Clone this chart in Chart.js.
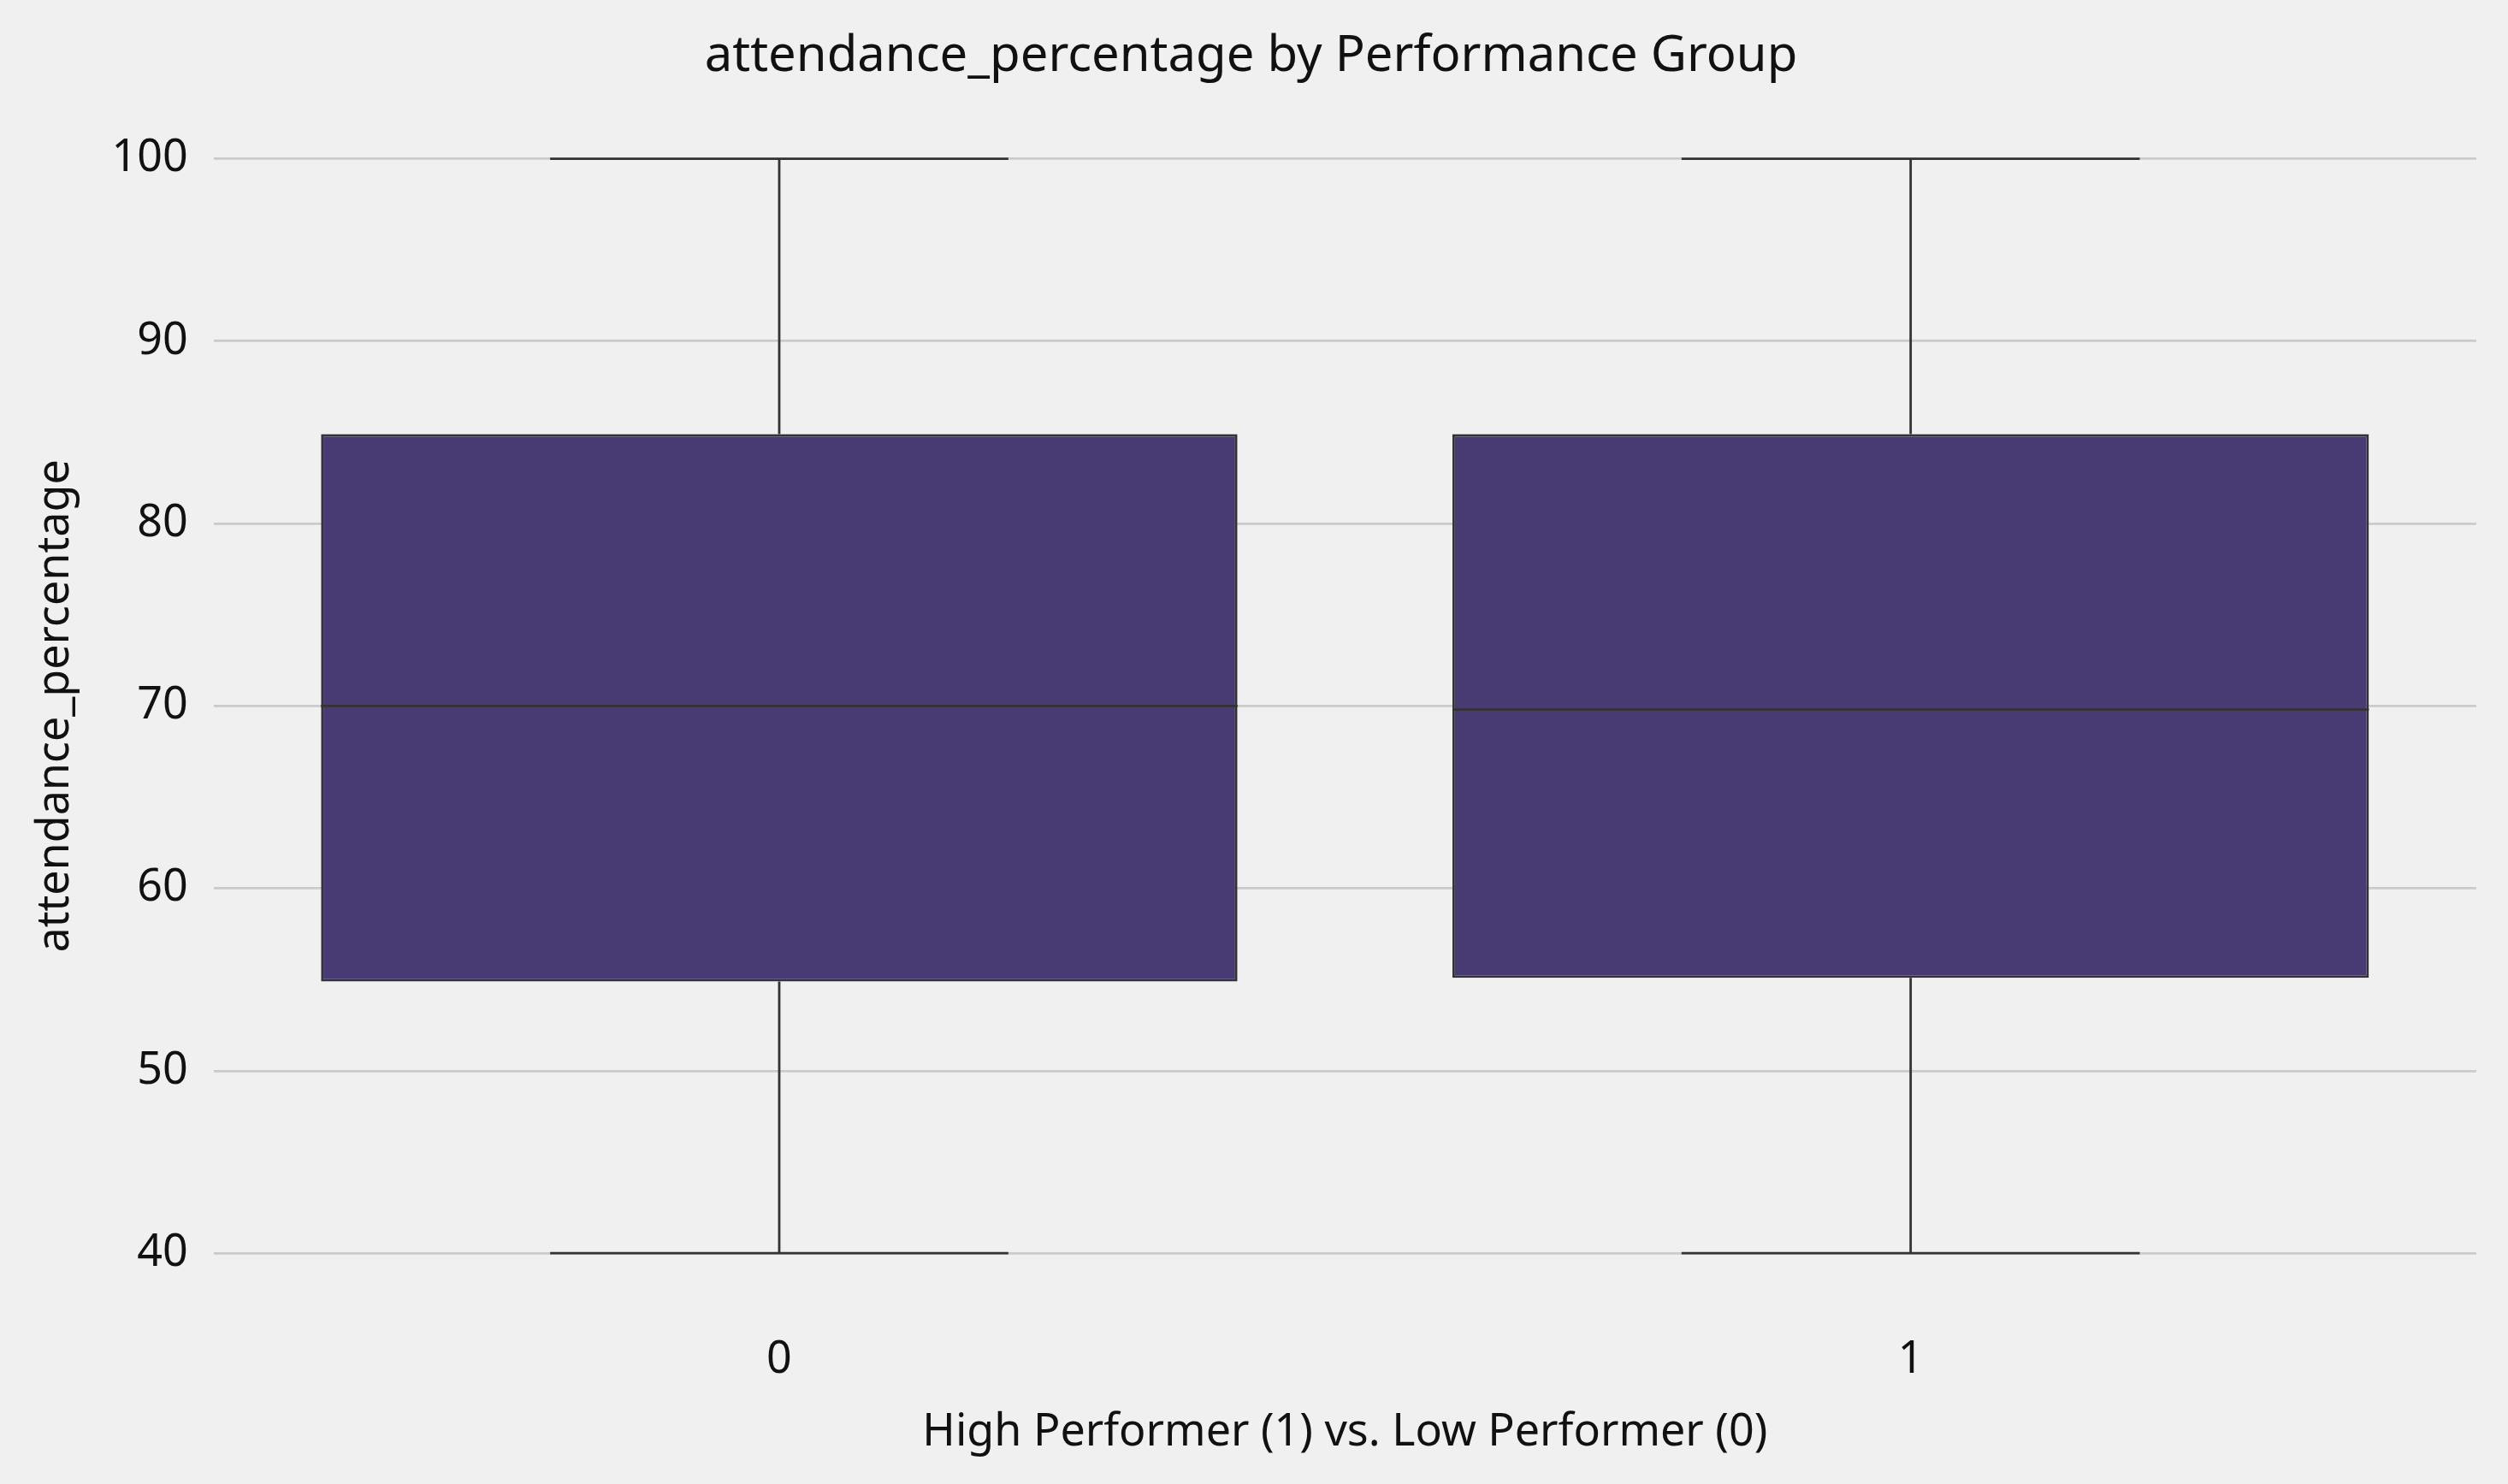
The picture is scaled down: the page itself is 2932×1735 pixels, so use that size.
<!DOCTYPE html>
<html><head><meta charset="utf-8">
<script src="https://cdn.jsdelivr.net/npm/chart.js@4"></script>
<style>html,body{margin:0;padding:0;background:#f0f0f0;}</style>
</head><body>
<canvas id="c" width="2932" height="1735"></canvas>
<script>
const categories = ["0", "1"];
const whiskerLow = [40, 40];
const q1 = [54.9, 55.1];
const median = [70.0, 69.8];
const q3 = [84.9, 84.9];
const whiskerHigh = [100, 100];
const yTicks = [40, 50, 60, 70, 80, 90, 100];

const boxPlugin = {
  id: 'boxExtras',
  afterDatasetsDraw(chart) {
    const ctx = chart.ctx, y = chart.scales.y;
    const meta = chart.getDatasetMeta(0);
    ctx.save();
    ctx.strokeStyle = '#333333';
    ctx.lineWidth = 2.8;
    meta.data.forEach((bar, i) => {
      const x = bar.x, hw = bar.width / 2;
      const line = (x1, y1, x2, y2) => { ctx.beginPath(); ctx.moveTo(x1, y1); ctx.lineTo(x2, y2); ctx.stroke(); };
      line(x, y.getPixelForValue(q3[i]), x, y.getPixelForValue(whiskerHigh[i]));
      line(x, y.getPixelForValue(q1[i]), x, y.getPixelForValue(whiskerLow[i]));
      line(x - hw / 2, y.getPixelForValue(whiskerHigh[i]), x + hw / 2, y.getPixelForValue(whiskerHigh[i]));
      line(x - hw / 2, y.getPixelForValue(whiskerLow[i]), x + hw / 2, y.getPixelForValue(whiskerLow[i]));
      line(x - hw, y.getPixelForValue(median[i]), x + hw, y.getPixelForValue(median[i]));
    });
    ctx.restore();
  }
};
const bgPlugin = { id:'bg', beforeDraw(c){ c.ctx.save(); c.ctx.fillStyle='#f0f0f0'; c.ctx.fillRect(0,0,c.width,c.height); c.ctx.restore(); } };

new Chart(document.getElementById('c'), {
  type: 'bar',
  data: { labels: categories, datasets: [{
    data: categories.map((_, i) => [q1[i], q3[i]]),
    backgroundColor: '#483a73', borderColor: '#333333', borderWidth: 2.8, borderSkipped: false,
    barPercentage: 0.81, categoryPercentage: 1.0
  }]},
  options: {
    responsive: false, devicePixelRatio: 1, animation: false,
    layout: { padding: { top: 22, right: 37, left: 30, bottom: 25 } },
    plugins: {
      legend: { display: false }, tooltip: { enabled: false },
      title: { display: true, text: 'attendance_percentage by Performance Group', color: '#111',
        font: { family: 'Noto Sans', size: 58, weight: 'normal' }, padding: { top: 10, bottom: 20 } }
    },
    scales: {
      x: { grid: { display: false }, border: { display: false },
        ticks: { color: '#111', font: { family: 'Noto Sans', size: 52 }, padding: 22 },
        title: { display: true, text: 'High Performer (1) vs. Low Performer (0)', color: '#111', font: { family: 'Noto Sans', size: 52 }, padding: { top: 0 } } },
      y: { min: 37, max: 103, border: { display: false },
        afterBuildTicks: s => { s.ticks = yTicks.map(v => ({ value: v })); },
        grid: { color: '#cbcbcb', lineWidth: 2.8, drawTicks: false },
        ticks: { color: '#111', font: { family: 'Noto Sans', size: 52 }, padding: 30 },
        title: { display: true, text: 'attendance_percentage', color: '#111', font: { family: 'Noto Sans', size: 52 } } }
    }
  },
  plugins: [bgPlugin, boxPlugin]
});
</script>
</body></html>
